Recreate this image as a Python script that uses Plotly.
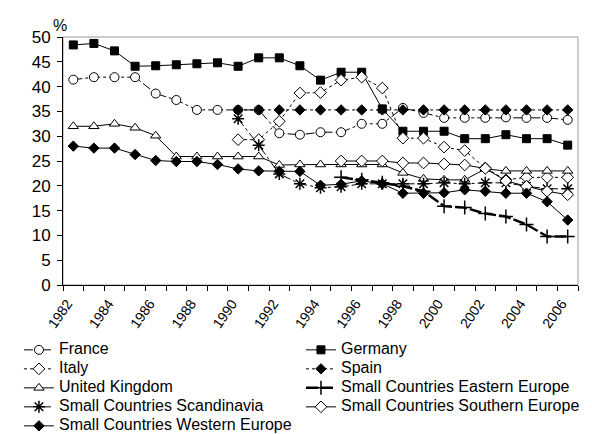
import plotly.graph_objects as go

years = list(range(1982, 2007))

france = [41.4, 41.9, 41.9, 41.9, 38.6, 37.3, 35.3, 35.3, 35.3, 35.3, 30.6, 30.3, 30.8,
          30.8, 32.5, 32.5, 35.7, 34.7, 33.7, 33.7, 33.7, 33.8, 33.7, 33.7, 33.3]
germany = [48.4, 48.7, 47.2, 44.1, 44.2, 44.4, 44.6, 44.8, 44.1, 45.8, 45.8, 44.2, 41.3,
           42.9, 42.9, 35.5, 31.0, 31.0, 31.0, 29.5, 29.5, 30.3, 29.5, 29.5, 28.2]
italy = [None] * 8 + [29.3, 29.3, 33.0, 38.7, 38.8, 41.3, 41.9, 39.7, 29.6, 29.6, 27.8,
                      27.1, 23.6, 21.2, 21.7, 21.7, 21.7]
spain = [None] * 8 + [35.3] * 17
uk = [32.0, 32.0, 32.5, 31.7, 30.1, 25.9, 25.9, 25.9, 25.9, 25.9, 24.2, 24.3, 24.3,
      24.3, 24.3, 24.3, 22.6, 21.4, 21.2, 21.2, 23.4, 23.0, 23.0, 23.0, 23.0]
eastern = [None] * 13 + [21.7, 21.2, 20.6, 19.9, 18.9, 15.9, 15.6, 14.4, 13.8, 12.2, 9.8, 9.8]
scandinavia = [None] * 8 + [33.5, 28.2, 22.4, 20.4, 19.6, 19.8, 20.4, 20.4, 20.4, 20.4,
                            20.6, 20.4, 20.6, 20.6, 19.9, 19.4, 19.4]
southern = [None] * 13 + [25.0, 25.0, 25.0, 24.6, 24.6, 24.4, 24.2, 23.5, 21.0, 19.9, 18.9, 18.2]
western = [28.0, 27.6, 27.6, 26.3, 25.1, 24.9, 24.9, 24.3, 23.4, 23.0, 22.9, 22.9, 20.1,
           20.3, 21.0, 20.4, 18.5, 18.5, 18.6, 19.2, 18.9, 18.5, 18.5, 16.8, 13.1]

year_labels = [str(y) for y in range(1982, 2007, 2)]

FONT = "Liberation Sans, Arial, sans-serif"

series = [
    ("France", france, "dashdot", 1, "circle", "white", 9),
    ("Germany", germany, "solid", 1, "square", "black", 8),
    ("Italy", italy, "dot", 1, "diamond", "white", 9),
    ("Spain", spain, "dot", 1, "diamond", "black", 8),
    ("United Kingdom", uk, "solid", 1, "triangle-up", "white", 9),
    ("Small Countries Eastern Europe", eastern, "12px,3px", 2.5, "cross-thin", "black", 10),
    ("Small Countries Scandinavia", scandinavia, "dashdot", 1, "asterisk", "black", 10),
    ("Small Countries Southern Europe", southern, "solid", 1, "diamond", "white", 9),
    ("Small Countries Western Europe", western, "solid", 1, "diamond", "black", 8),
]

fig = go.Figure()
for name, vals, dash, w, sym, fill, size in series:
    line_only = sym in ("cross-thin", "asterisk")
    fig.add_trace(go.Scatter(
        x=years, y=vals, name="<span style='font-size:16px'>%s</span>" % name,
        mode="lines+markers",
        line=dict(color="black", width=w, dash=dash),
        marker=dict(symbol=sym, size=size, color=fill,
                    line=dict(color="black", width=1.5 if line_only else 1)),
        connectgaps=False,
    ))

fig.add_shape(type="rect", xref="paper", yref="paper", x0=0, y0=0, x1=1, y1=1,
              line=dict(color="#9a9a9a", width=1), layer="below")

fig.add_annotation(text="%", xref="paper", yref="paper", x=-0.006, y=1.045,
                   showarrow=False, xanchor="center", yanchor="middle",
                   font=dict(size=16, color="black", family=FONT))

fig.update_layout(
    width=592, height=434,
    margin=dict(l=55, r=22, t=29, b=157, autoexpand=False),
    paper_bgcolor="white", plot_bgcolor="white",
    font=dict(family=FONT, color="black", size=16),
    showlegend=True,
    legend=dict(orientation="h", x=-0.0855, y=-0.203, xanchor="left", yanchor="top",
                entrywidth=237, entrywidthmode="pixels",
                font=dict(size=11, family=FONT), itemwidth=30,
                tracegroupgap=0, bgcolor="rgba(0,0,0,0)"),
    xaxis=dict(range=[1981.5, 2006.5], tickvals=list(range(1982, 2007, 2)),
               ticktext=year_labels, tickangle=-55, ticks="", showgrid=False,
               zeroline=False, showline=True, linecolor="black", linewidth=1,
               tickfont=dict(size=14), ticklabelshift=-6, ticklabelstandoff=4,
               minor=dict(tickvals=[y - 0.5 for y in range(1982, 2008)], ticks="outside",
                          ticklen=5, tickcolor="black", showgrid=False)),
    yaxis=dict(range=[0, 50], dtick=5, ticks="outside", ticklen=5, tickcolor="black",
               showgrid=False, zeroline=False, showline=True, linecolor="black",
               linewidth=1, tickfont=dict(size=17), ticklabelstandoff=3),
)

fig.write_html("out.html")
